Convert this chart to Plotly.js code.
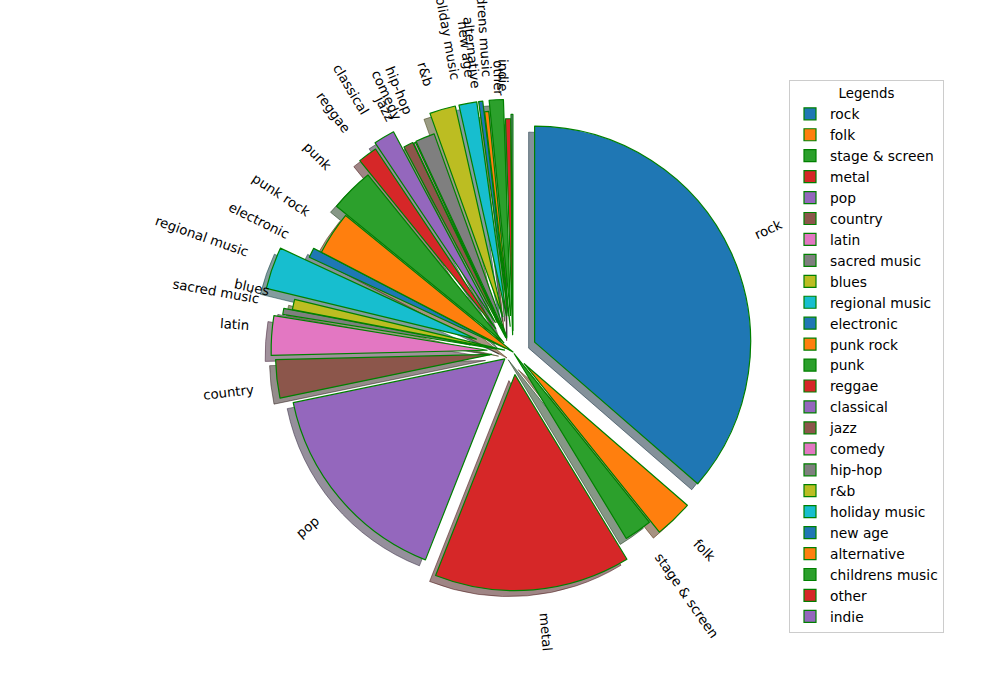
<!DOCTYPE html>
<html>
<head>
<meta charset="utf-8">
<script src="https://cdn.plot.ly/plotly-3.0.1.min.js"></script>
<style>html,body{margin:0;padding:0;background:#fff;}#chart{width:1000px;height:700px;}</style>
</head>
<body>
<div id="chart"></div>
<script>
// ---- data ----
const labels = ["rock","folk","stage & screen","metal","pop","country","latin","sacred music","blues",
  "regional music","electronic","punk rock","punk","reggae","classical","jazz","comedy","hip-hop","r&b",
  "holiday music","new age","alternative","childrens music","other","indie"];
const values = [131, 10.3, 7.5, 52.8, 56.8, 10.3, 10.6, 1.6, 2.8,
  11.3, 2.6, 11.7, 11.8, 5.2, 5.7, 2.6, 0.6, 5.2, 7.0,
  4.8, 1.1, 1.1, 3.8, 1.4, 0.5];
const explode = [0.11, 0.075, 0.01, 0.105, 0.05, 0.10, 0.12, 0.08, 0.04,
  0.18, 0.04, 0.0, 0.06, 0.135, 0.16, 0.075, 0.07, 0.074, 0.17,
  0.17, 0.17, 0.12, 0.17, 0.08, 0.10];

// ---- style ----
const tab10 = ["#1f77b4","#ff7f0e","#2ca02c","#d62728","#9467bd","#8c564b","#e377c2","#7f7f7f","#bcbd22","#17becf"];
const colors = labels.map((_, i) => tab10[i % 10]);
function shadowColor(hex) {
  const r = parseInt(hex.slice(1,3),16), g = parseInt(hex.slice(3,5),16), b = parseInt(hex.slice(5,7),16);
  return `rgba(${Math.round(r*0.3)},${Math.round(g*0.3)},${Math.round(b*0.3)},0.5)`;
}
const shadowColors = colors.map(shadowColor);

const W = 1000, H = 700;
const cx = 513, cy = 352, R = 216;
const maxPull = Math.max(...explode);
const half = R * (1 + maxPull);
function dom(ox, oy) {
  return {
    x: [(cx + ox - half) / W, (cx + ox + half) / W],
    y: [1 - (cy + oy + half) / H, 1 - (cy + oy - half) / H]
  };
}
const shOff = 6;

const shadow = {
  type: 'pie', labels: labels.map(l => l + '\u200b'), values: values, sort: false,
  direction: 'clockwise', rotation: 0, pull: explode, textinfo: 'none', hoverinfo: 'skip',
  showlegend: false, domain: dom(-shOff, shOff),
  marker: {colors: shadowColors, line: {color: shadowColors, width: 1}}
};
const main = {
  type: 'pie', labels: labels, values: values, sort: false,
  direction: 'clockwise', rotation: 0, pull: explode, textinfo: 'none',
  domain: dom(0, 0),
  marker: {colors: colors, line: {color: 'green', width: 1.2}}
};

// rotated labels like matplotlib rotatelabels=True
const total = values.reduce((a, b) => a + b, 0);
const annotations = [];
let cum = 0;
values.forEach((v, i) => {
  const thetaMid = (cum + v / 2) / total * 360;
  cum += v;
  const phiDeg = 90 - thetaMid;
  const phi = phiDeg * Math.PI / 180;
  const d = (explode[i] + 1.1) * R;
  const px = cx + d * Math.cos(phi), py = cy - d * Math.sin(phi);
  const right = Math.cos(phi) > 0;
  const up = Math.sin(phi) > 0;
  let rot = right ? phiDeg : phiDeg + 180;
  let ta = -rot;
  while (ta > 180) ta -= 360;
  while (ta <= -180) ta += 360;
  annotations.push({
    x: px / W, y: 1 - py / H, xref: 'paper', yref: 'paper', showarrow: false,
    text: labels[i], textangle: ta, xanchor: right ? 'left' : 'right', yanchor: up ? 'bottom' : 'top',
    borderpad: 0, font: {family: 'DejaVu Sans', size: 13.33, color: '#000'}
  });
});

const layout = {
  width: W, height: H, margin: {l: 0, r: 0, t: 0, b: 0},
  paper_bgcolor: '#fff', plot_bgcolor: '#fff',
  font: {family: 'DejaVu Sans', size: 13.33, color: '#000'},
  showlegend: true,
  legend: {
    x: 0.789, y: 1 - 80 / H, xanchor: 'left', yanchor: 'top',
    bgcolor: 'rgba(255,255,255,0.8)', bordercolor: '#cccccc', borderwidth: 1,
    title: {text: 'Legends', side: 'top center', font: {family: 'DejaVu Sans', size: 13.33}},
    font: {family: 'DejaVu Sans', size: 13.8}, traceorder: 'normal'
  },
  annotations: annotations
};

Plotly.newPlot('chart', [shadow, main], layout, {displayModeBar: false, staticPlot: true});
</script>
</body>
</html>
